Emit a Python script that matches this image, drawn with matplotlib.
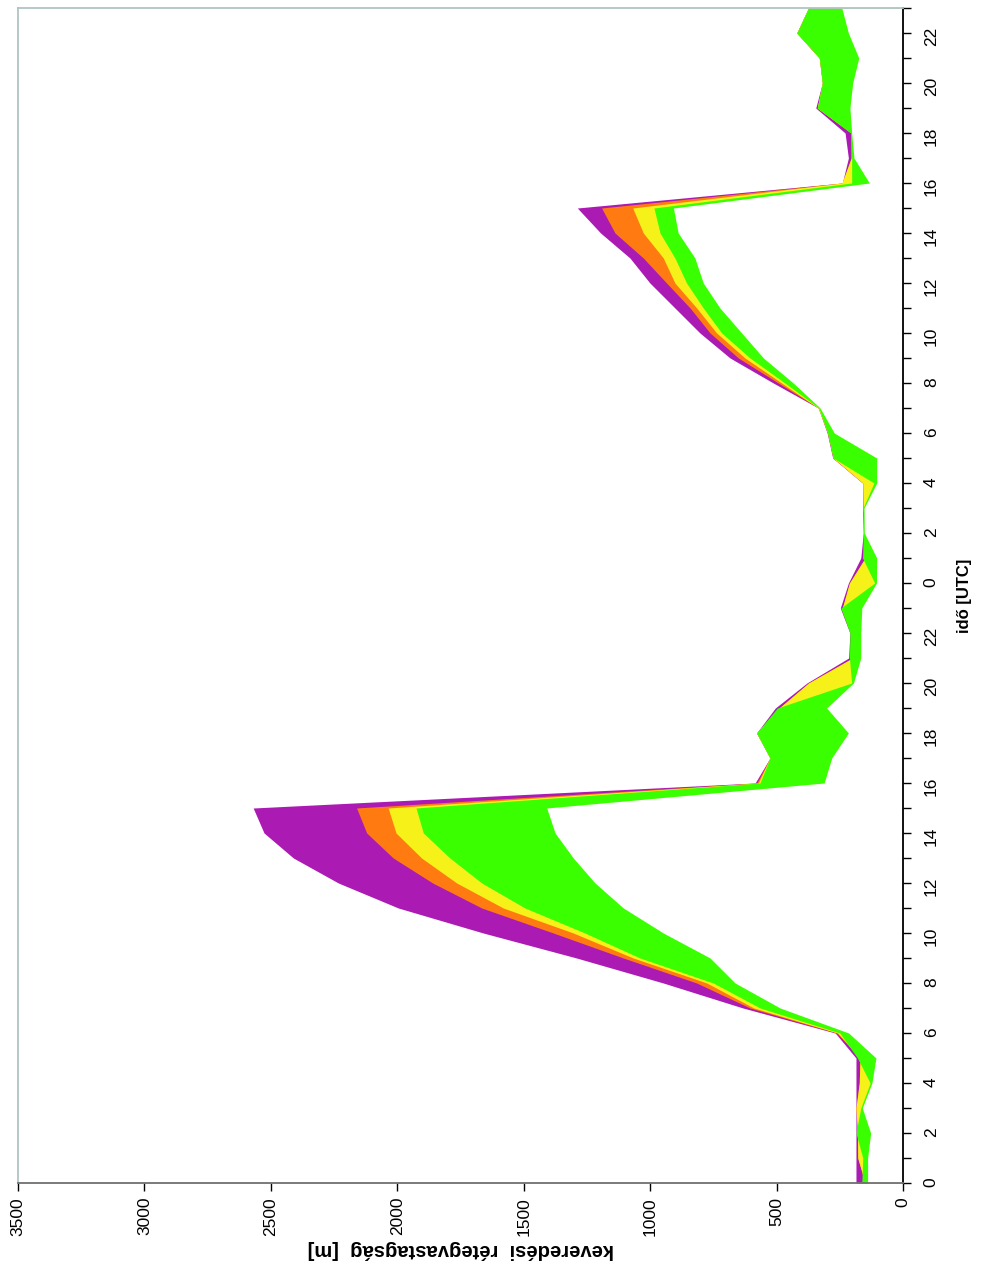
import numpy as np
import matplotlib
matplotlib.use('Agg')
import matplotlib.pyplot as plt

plt.rcParams['font.family'] = ['Liberation Sans', 'DejaVu Sans']

# órák: két nap, 0..23 + 0..23
hours = np.arange(48)
hour_labels = [str(h % 24) for h in range(0, 48, 2)]

# keveredési rétegvastagság [m] - burkolók (max -> min)
lila = [186, 186, 186, 186, 186, 186, 268, 633, 948, 1291, 1660, 1996, 2233, 2411, 2527, 2570,
        585, 526, 579, 505, 380, 215, 210, 248,
        216, 167, 157, 160, 160, 278, 300, 335, 513, 684, 803, 902, 1001, 1080, 1196, 1288,
        240, 216, 229, 345, 319, 331, 420, 374]
narancs = [150, 179, 180, 186, 173, 170, 262, 605, 816, 1106, 1383, 1666, 1860, 2016, 2121, 2161,
           578, 526, 579, 490, 374, 200, 205, 240,
           212, 150, 150, 158, 159, 276, 298, 335, 493, 651, 763, 842, 935, 1027, 1139, 1192,
           240, 205, 205, 339, 319, 331, 420, 374]
sarga = [150, 179, 180, 186, 173, 170, 258, 590, 776, 1067, 1304, 1581, 1765, 1904, 2005, 2036,
         572, 526, 579, 490, 374, 200, 205, 240,
         212, 150, 150, 158, 159, 276, 298, 335, 480, 625, 737, 816, 902, 948, 1027, 1069,
         242, 205, 205, 339, 319, 331, 420, 374]
zold = [163, 159, 186, 167, 130, 180, 250, 565, 750, 1040, 1258, 1495, 1666, 1792, 1897, 1926,
        566, 526, 579, 497, 203, 212, 210, 246,
        112, 160, 157, 158, 115, 276, 298, 333, 467, 605, 717, 790, 856, 902, 961, 985,
        203, 203, 207, 339, 319, 331, 420, 374]
feher = [140, 140, 128, 161, 123, 107, 215, 486, 664, 763, 948, 1106, 1218, 1304, 1376, 1409,
         312, 282, 216, 302, 196, 167, 167, 163,
         105, 104, 153, 154, 104, 104, 272, 328, 434, 552, 638, 724, 790, 823, 889, 908,
         133, 194, 203, 210, 199, 175, 216, 242]

series = [lila, narancs, sarga, zold, feher]
colors = ['#AC1AB4', '#FF7B12', '#F7F11A', '#39FF00', 'white']

fig = plt.figure(figsize=(9.96, 12.64), dpi=100)
ax = fig.add_axes([18 / 996, 1 - 1183 / 1264, (903 - 18) / 996, (1183 - 8) / 1264])

for vals, c in zip(series, colors):
    ax.fill_betweenx(hours, 0, vals, color=c, lw=0)

ax.set_xlim(3500, 0)
ax.set_ylim(0, 47)

ax.set_xticks(np.arange(0, 3501, 500))
ax.set_yticks(np.arange(0, 48, 2))
ax.set_yticks(np.arange(1, 48, 2), minor=True)
ax.set_yticklabels(hour_labels)

ax.yaxis.tick_right()
ax.yaxis.set_label_position('right')
ax.tick_params(axis='x', direction='out', length=6, width=1, labelsize=12.5, labelrotation=90, pad=4)
ax.tick_params(axis='y', which='both', direction='out', length=6, width=1, labelsize=12.5,
               labelrotation=90, pad=9)

ax.set_xlabel('keveredési  rétegvastagság  [m]', fontsize=14.5, fontweight='bold', rotation=180,
              labelpad=3)
ax.set_ylabel('idő [UTC]', fontsize=12, fontweight='bold', rotation=90, labelpad=13)

ax.spines['top'].set_color('#B0C4C4')
ax.spines['left'].set_color('#B0C4C4')
ax.spines['bottom'].set_color('#707070')
ax.spines['right'].set_color('black')
for s in ax.spines.values():
    s.set_linewidth(1.3)

fig.savefig('out.png', dpi=100)
